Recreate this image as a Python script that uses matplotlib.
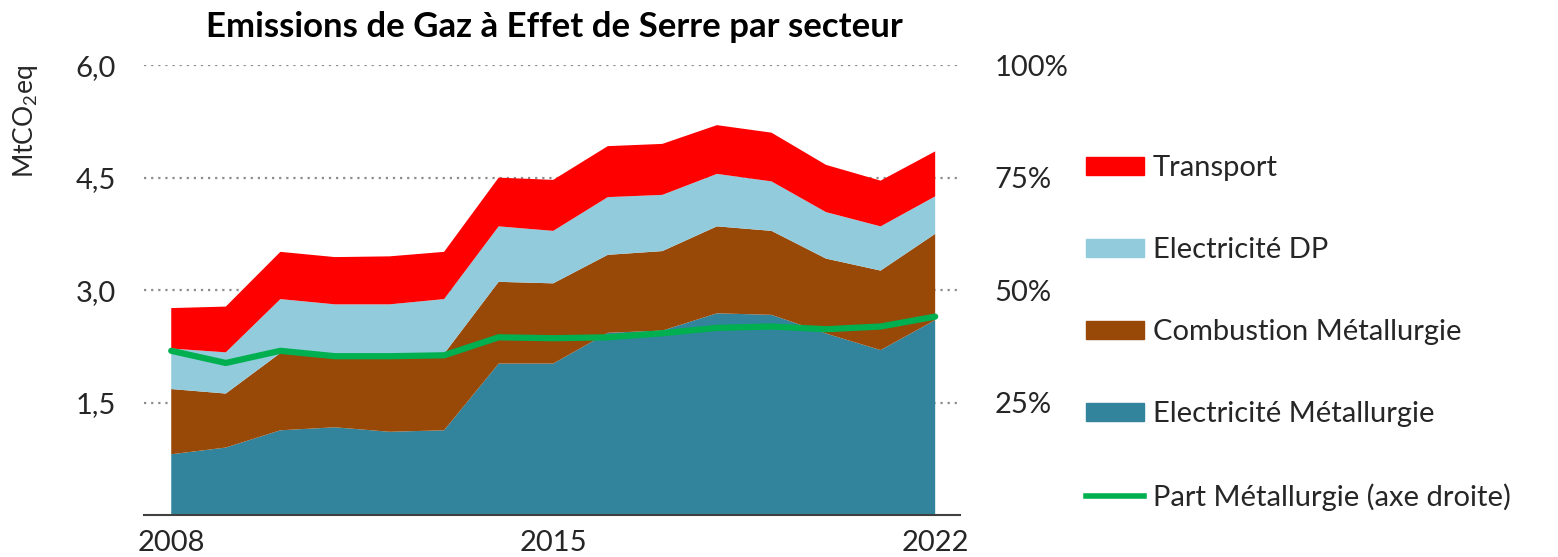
import matplotlib
matplotlib.use("Agg")
import matplotlib.pyplot as plt
from matplotlib.patches import Patch
from matplotlib.lines import Line2D
from matplotlib.ticker import FuncFormatter

plt.rcParams['font.family'] = ['Lato', 'DejaVu Sans']
plt.rcParams['mathtext.fontset'] = 'custom'
plt.rcParams['mathtext.rm'] = 'Lato'

# Donnees (MtCO2eq)
annees = list(range(2008, 2023))
elec_metallurgie = [0.81, 0.90, 1.13, 1.17, 1.11, 1.13, 2.02, 2.02, 2.43, 2.46, 2.69, 2.67, 2.42, 2.20, 2.60]
combustion_metallurgie = [0.87, 0.72, 1.03, 0.92, 0.98, 1.02, 1.09, 1.07, 1.04, 1.06, 1.16, 1.12, 1.00, 1.06, 1.15]
elec_dp = [0.54, 0.55, 0.72, 0.72, 0.72, 0.73, 0.74, 0.70, 0.77, 0.75, 0.70, 0.66, 0.62, 0.59, 0.50]
transport = [0.54, 0.61, 0.63, 0.63, 0.64, 0.63, 0.65, 0.68, 0.68, 0.68, 0.65, 0.65, 0.63, 0.61, 0.60]
part_metallurgie = [0.365, 0.338, 0.365, 0.353, 0.353, 0.355, 0.395, 0.393, 0.395, 0.404, 0.416, 0.419, 0.413, 0.419, 0.441]

labels = ["Electricité Métallurgie", "Combustion Métallurgie", "Electricité DP", "Transport"]
couleurs = ["#31849B", "#984807", "#92CBDC", "#FF0000"]
vert = "#00B050"
gris = "#262626"

fig = plt.figure(figsize=(15.58, 5.57), dpi=100)
ax = fig.add_axes([0.0924, 0.0754, 0.5236, 0.8076])

ax.stackplot(annees, elec_metallurgie, combustion_metallurgie, elec_dp, transport,
             colors=couleurs, linewidth=0)
ax.set_xlim(2007.5, 2022.45)
ax.set_ylim(0, 6)
ax.set_yticks([1.5, 3.0, 4.5, 6.0])
ax.yaxis.set_major_formatter(FuncFormatter(lambda v, p: f"{v:.1f}".replace(".", ",")))
ax.set_xticks([2008, 2015, 2022])
ax.set_axisbelow(True)
ax.grid(axis='y', linestyle=(0, (1, 2.2)), color='#8c8c8c', linewidth=1.6)
for s in ['top', 'right', 'left']:
    ax.spines[s].set_visible(False)
ax.spines['bottom'].set_color('#404040')
ax.spines['bottom'].set_linewidth(1.5)
ax.tick_params(axis='y', length=0, pad=20, labelsize=21, labelcolor=gris)
ax.tick_params(axis='x', length=0, pad=11, labelsize=21, labelcolor=gris)
ax.set_ylabel("MtCO$_2$eq", fontsize=19, color=gris)
ax.yaxis.set_label_coords(-0.128, 0.875)

ax2 = ax.twinx()
ax2.plot(annees, part_metallurgie, color=vert, linewidth=4.5, solid_capstyle='round')
ax2.set_ylim(0, 1)
ax2.set_yticks([0.25, 0.5, 0.75, 1.0])
ax2.yaxis.set_major_formatter(FuncFormatter(lambda v, p: f"{v*100:.0f}%"))
ax2.tick_params(axis='y', length=0, pad=25, labelsize=21, labelcolor=gris)
for s in ['top', 'right', 'left', 'bottom']:
    ax2.spines[s].set_visible(False)

fig.text(0.356, 0.952, "Emissions de Gaz à Effet de Serre par secteur",
         ha='center', va='center', fontsize=25, fontweight='bold', color='black')

handles = [Patch(color=couleurs[3]), Patch(color=couleurs[2]), Patch(color=couleurs[1]),
           Patch(color=couleurs[0]), Line2D([], [], color=vert, linewidth=4)]
noms = ["Transport", "Electricité DP", "Combustion Métallurgie", "Electricité Métallurgie",
        "Part Métallurgie (axe droite)"]
fig.legend(handles, noms, loc='upper left', bbox_to_anchor=(0.697, 0.721), frameon=False,
           fontsize=21, labelspacing=1.92, handlelength=2.0, handleheight=0.6,
           handletextpad=0.3, borderpad=0, borderaxespad=0, labelcolor=gris)

fig.savefig("out.png", dpi=100)
